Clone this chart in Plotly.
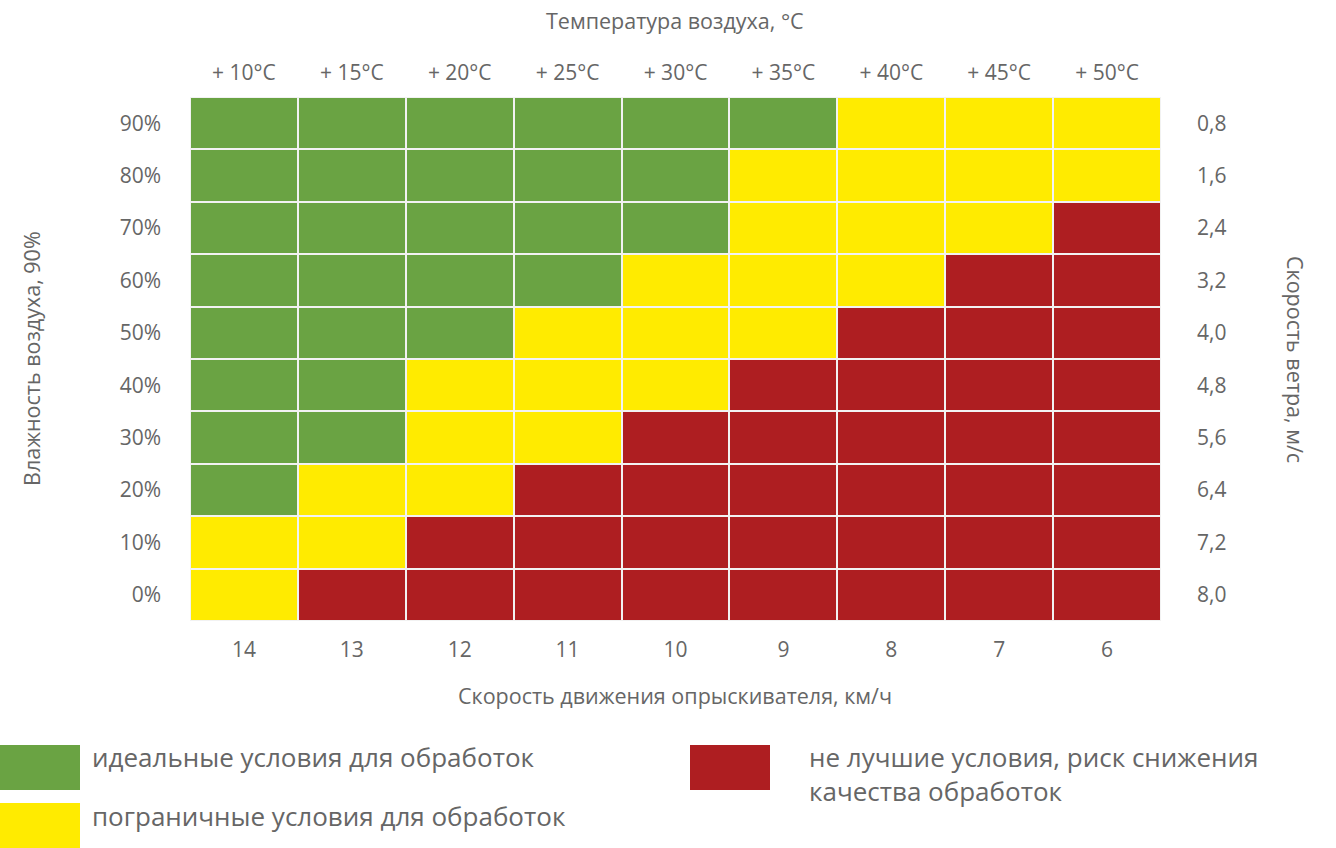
import plotly.graph_objects as go

# --- data ---
sprayer_speed = ["14", "13", "12", "11", "10", "9", "8", "7", "6"]
air_temp = ["+ 10°C", "+ 15°C", "+ 20°C", "+ 25°C", "+ 30°C", "+ 35°C", "+ 40°C", "+ 45°C", "+ 50°C"]
humidity = ["90%", "80%", "70%", "60%", "50%", "40%", "30%", "20%", "10%", "0%"]
wind_speed = ["0,8", "1,6", "2,4", "3,2", "4,0", "4,8", "5,6", "6,4", "7,2", "8,0"]

# 0 = ideal, 1 = borderline, 2 = poor   (rows top -> bottom)
conditions = [
    [0, 0, 0, 0, 0, 0, 1, 1, 1],
    [0, 0, 0, 0, 0, 1, 1, 1, 1],
    [0, 0, 0, 0, 0, 1, 1, 1, 2],
    [0, 0, 0, 0, 1, 1, 1, 2, 2],
    [0, 0, 0, 1, 1, 1, 2, 2, 2],
    [0, 0, 1, 1, 1, 2, 2, 2, 2],
    [0, 0, 1, 1, 2, 2, 2, 2, 2],
    [0, 1, 1, 2, 2, 2, 2, 2, 2],
    [1, 1, 2, 2, 2, 2, 2, 2, 2],
    [1, 2, 2, 2, 2, 2, 2, 2, 2],
]

legend_labels = [
    "идеальные условия для обработок",
    "пограничные условия для обработок",
    "не лучшие условия, риск снижения<br>качества обработок",
]

GREEN = "#6aa343"
YELLOW = "#ffeb00"
RED = "#ae1e21"
TEXT = "#666666"
FONT = "Open Sans"

W, H = 1336, 848
L, R, T, B = 190, 1161, 97, 621


def px(x):
    return (x - L) / (R - L)


def py(y):
    return (B - y) / (B - T)


fig = go.Figure()

fig.add_trace(go.Heatmap(
    x=sprayer_speed,
    y=humidity,
    z=conditions,
    zmin=0,
    zmax=2,
    colorscale=[[0, GREEN], [0.333, GREEN], [0.333, YELLOW], [0.667, YELLOW], [0.667, RED], [1, RED]],
    showscale=False,
    xgap=2,
    ygap=2,
    hoverinfo="skip",
))

# invisible trace to carry the top / right category axes
fig.add_trace(go.Scatter(
    x=air_temp,
    y=wind_speed,
    xaxis="x2",
    yaxis="y2",
    mode="markers",
    marker=dict(opacity=0),
    showlegend=False,
    hoverinfo="skip",
))

tickfont = dict(family=FONT, size=21, color=TEXT)

fig.update_layout(
    width=W,
    height=H,
    margin=dict(l=L, r=W - R, t=T, b=H - B),
    paper_bgcolor="white",
    plot_bgcolor="#f2f2f2",
    showlegend=False,
    xaxis=dict(type="category", categoryarray=sprayer_speed, range=[-0.5, 8.5],
               showgrid=False, zeroline=False, showline=False, ticks="",
               tickfont=tickfont, ticklabelstandoff=14, fixedrange=True),
    yaxis=dict(type="category", categoryarray=humidity[::-1], range=[-0.5, 9.5],
               showgrid=False, zeroline=False, showline=False, ticks="",
               tickfont=tickfont, ticklabelstandoff=28, fixedrange=True),
    xaxis2=dict(type="category", categoryarray=air_temp, range=[-0.5, 8.5],
                overlaying="x", side="top", showgrid=False, zeroline=False,
                showline=False, ticks="", tickfont=tickfont, ticklabelstandoff=12,
                fixedrange=True),
    yaxis2=dict(type="category", categoryarray=wind_speed[::-1], range=[-0.5, 9.5],
                overlaying="y", side="right", showgrid=False, zeroline=False,
                showline=False, ticks="", tickfont=tickfont, ticklabelstandoff=35,
                fixedrange=True),
)

titlefont = dict(family=FONT, size=21.5, color=TEXT)
annotations = [
    dict(text="Температура воздуха, °C", x=px(675), y=py(20)),
    dict(text="Скорость движения опрыскивателя, км/ч", x=px(675), y=py(695)),
    dict(text="Влажность воздуха, 90%", x=px(31), y=py(359), textangle=-90),
    dict(text="Скорость ветра, м/с", x=px(1296), y=py(359), textangle=90),
]
for a in annotations:
    fig.add_annotation(xref="paper", yref="paper", showarrow=False,
                       xanchor="center", yanchor="middle", font=titlefont, **a)

# legend blocks
legend_items = [
    (GREEN, 0, 745, 80, 790, 90, 754),
    (YELLOW, 0, 803, 80, 848, 90, 813),
    (RED, 690, 745, 770, 790, 807, 754),
]
for (color, x0, y0, x1, y1, tx, ty), label in zip(legend_items, legend_labels):
    fig.add_shape(type="rect", xref="paper", yref="paper",
                  x0=px(x0), x1=px(x1), y0=py(y0), y1=py(y1),
                  fillcolor=color, line=dict(width=0), layer="above")
    fig.add_annotation(xref="paper", yref="paper", showarrow=False,
                       x=px(tx), y=py(ty - 17), xanchor="left", yanchor="top",
                       align="left", text=label,
                       font=dict(family=FONT, size=26, color=TEXT))

fig.write_html("out.html", config={"displayModeBar": False},
               post_script="document.body.style.margin='0';")
